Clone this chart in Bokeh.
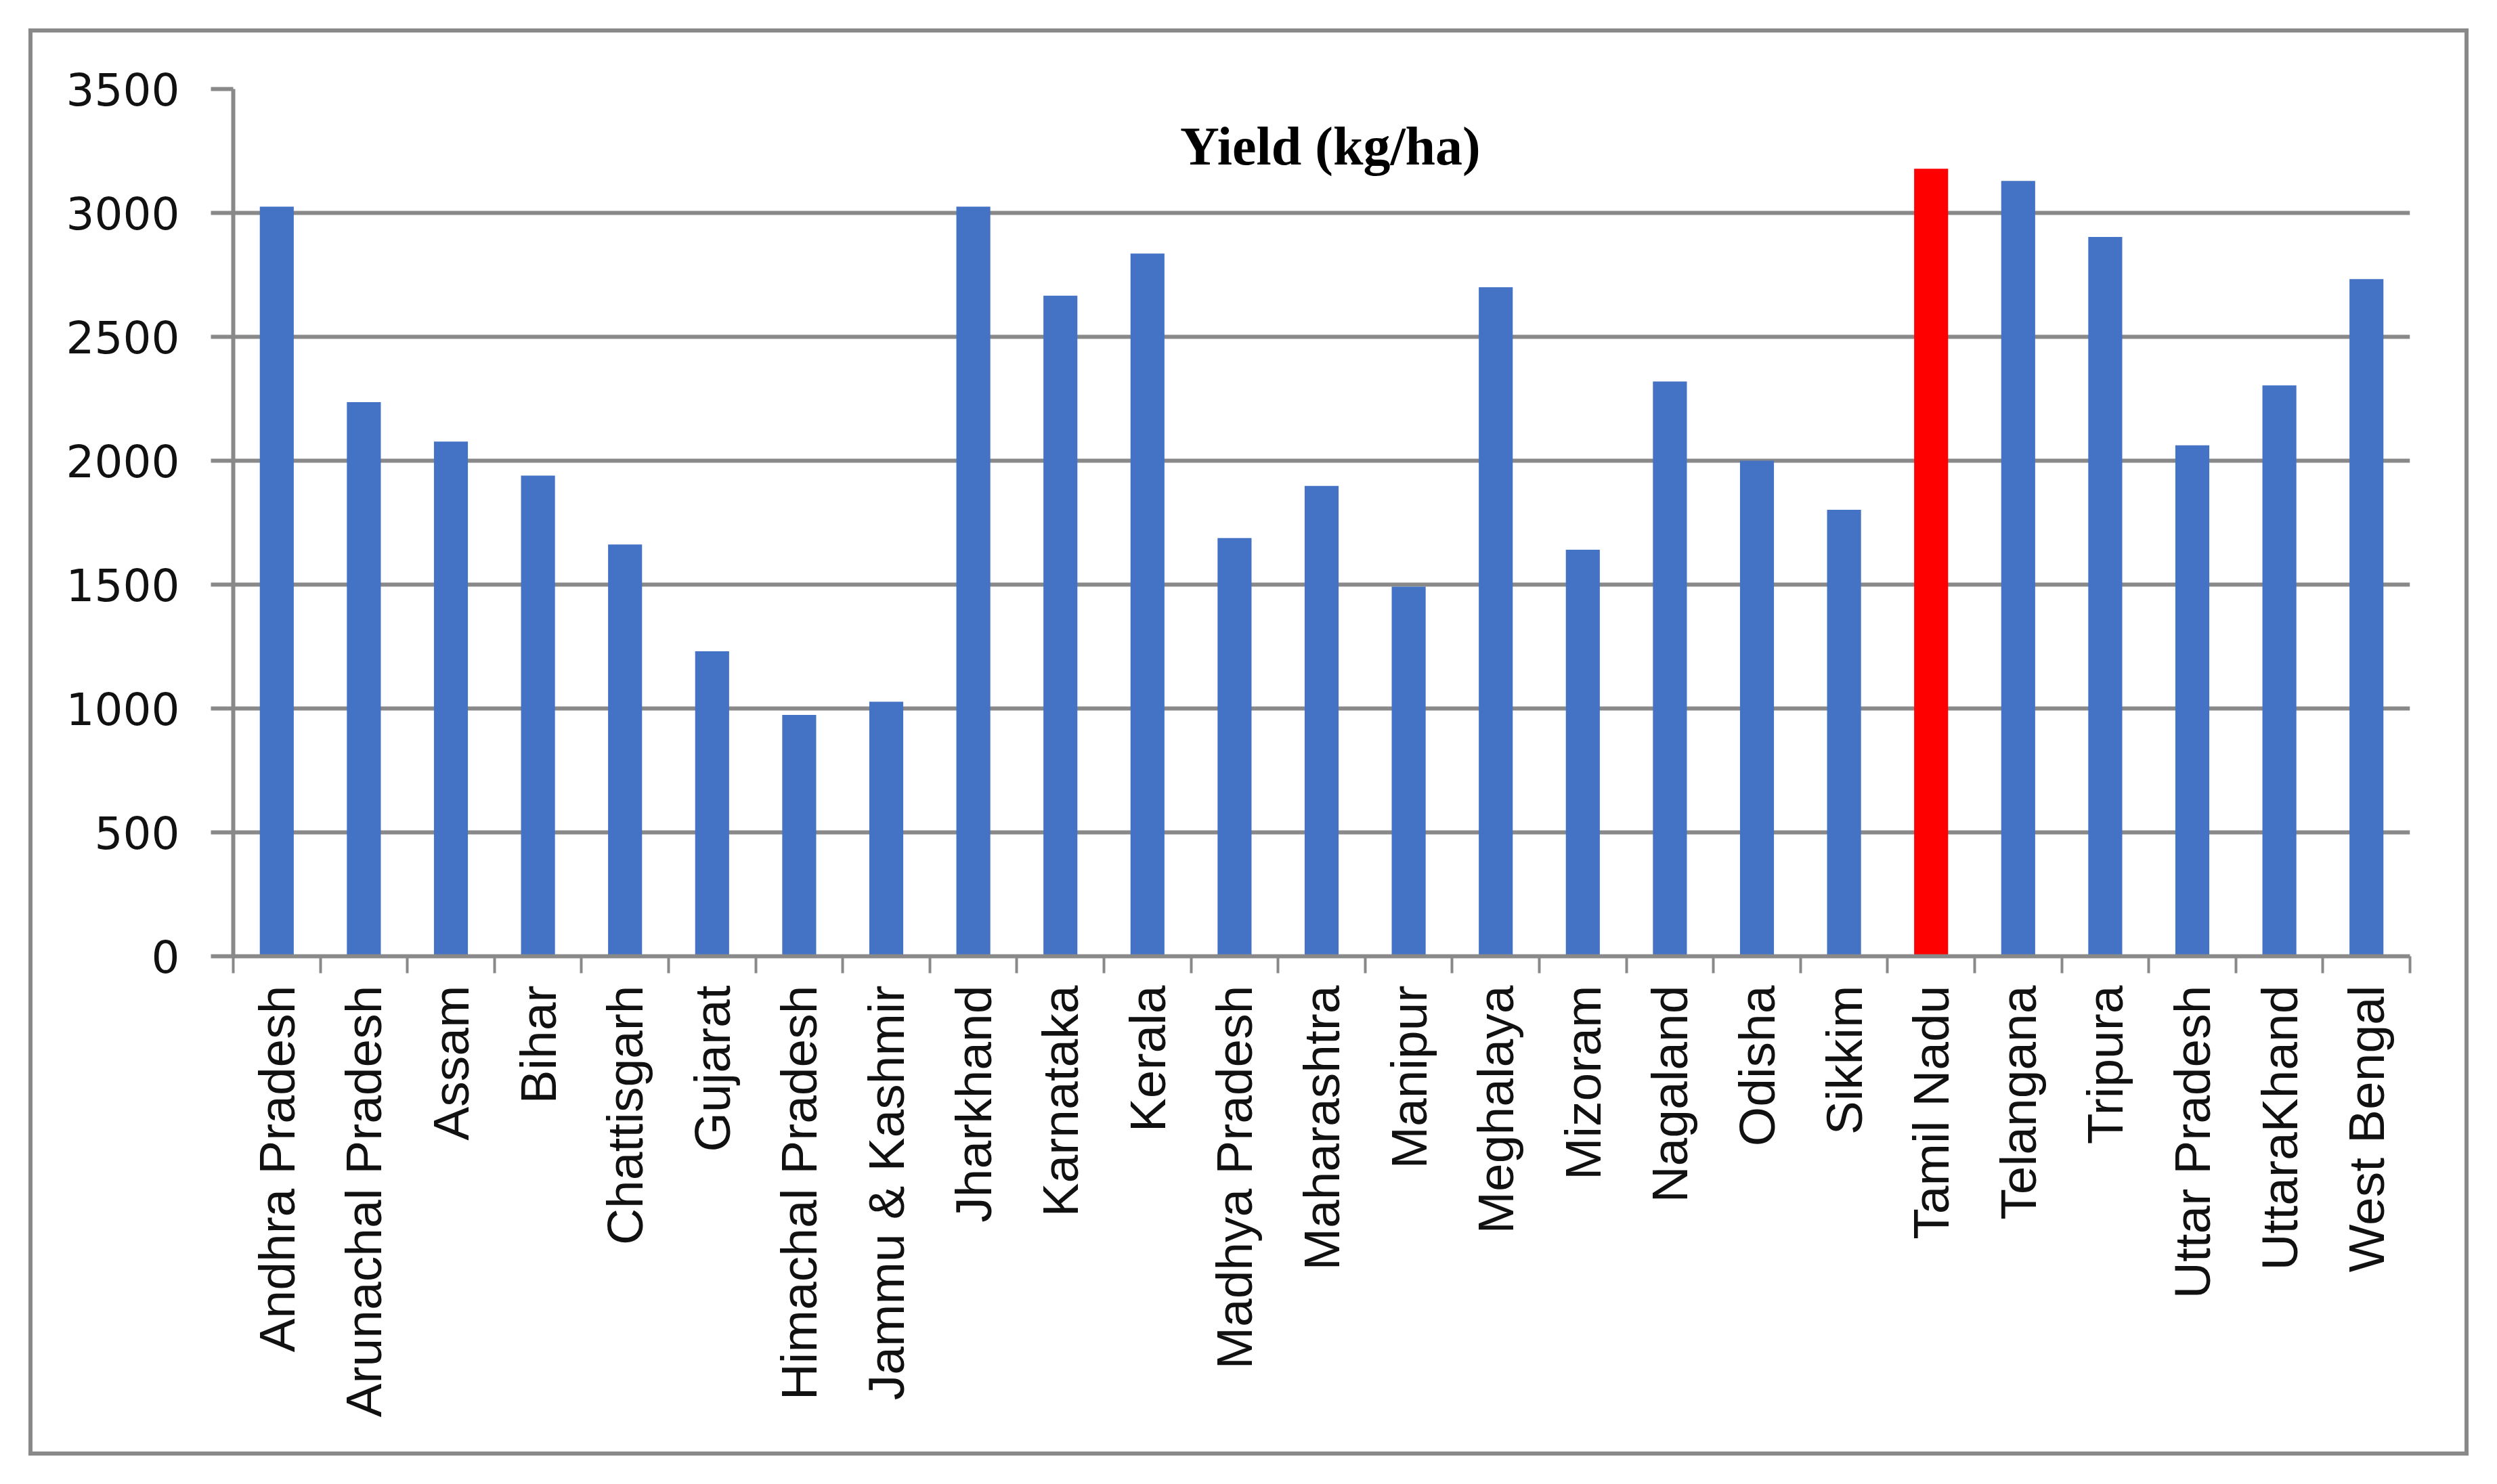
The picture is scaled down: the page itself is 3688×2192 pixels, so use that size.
from bokeh.plotting import figure
from bokeh.models import ColumnDataSource, Range1d, FixedTicker, Label
from bokeh.embed import file_html
from bokeh.resources import INLINE

states = ["Andhra Pradesh", "Arunachal Pradesh", "Assam", "Bihar", "Chattisgarh",
          "Gujarat", "Himachal Pradesh", "Jammu & Kashmir", "Jharkhand", "Karnataka",
          "Kerala", "Madhya Pradesh", "Maharashtra", "Manipur", "Meghalaya",
          "Mizoram", "Nagaland", "Odisha", "Sikkim", "Tamil Nadu",
          "Telangana", "Tripura", "Uttar Pradesh", "UttaraKhand", "West Bengal"]
yield_kg_ha = [3025, 2236, 2077, 1940, 1662,
               1231, 974, 1027, 3025, 2666,
               2836, 1688, 1898, 1492, 2700,
               1641, 2320, 2000, 1802, 3178,
               3129, 2903, 2062, 2304, 2733]
y_ticks = [0, 500, 1000, 1500, 2000, 2500, 3000, 3500]
title_text = "Yield (kg/ha)"
highlight = "Tamil Nadu"

BLUE = "#4472C4"
RED = "#FF0000"
GRAY = "#898989"

idx = list(range(len(states)))
colors = [RED if s == highlight else BLUE for s in states]
src = ColumnDataSource(dict(x=idx, top=yield_kg_ha, state=states, color=colors))

p = figure(width=3672, height=2176, output_backend="svg", toolbar_location=None,
           x_range=Range1d(-0.5, len(states) - 0.5), y_range=Range1d(0, 3500),
           min_border_left=336, min_border_right=121,
           min_border_top=123, min_border_bottom=772)
p.margin = (8, 0, 0, 8)
p.outline_line_color = None
p.background_fill_color = None
p.border_fill_color = None
p.styles = {"outline": "6px solid #898989", "outline-offset": "-40px"}

p.vbar(x="x", top="top", width=0.39, bottom=0, color="color", source=src, line_color=None)

# y axis
p.yaxis.ticker = FixedTicker(ticks=y_ticks)
p.yaxis.axis_line_color = GRAY
p.yaxis.axis_line_width = 6
p.yaxis.major_tick_out = 33
p.yaxis.major_tick_in = 0
p.yaxis.major_tick_line_color = GRAY
p.yaxis.major_tick_line_width = 6
p.yaxis.minor_tick_line_color = None
p.yaxis.major_label_standoff = 46
p.yaxis.major_label_text_font = "DejaVu Sans"
p.yaxis.major_label_text_font_size = "66px"
p.yaxis.major_label_text_color = "#111111"

# x axis: labels at centres, ticks at category boundaries
p.xaxis.ticker = FixedTicker(ticks=idx, minor_ticks=[i - 0.5 for i in range(len(states) + 1)])
p.xaxis.major_label_overrides = {i: s for i, s in zip(idx, states)}
p.xaxis.major_label_orientation = 1.5707963267948966
p.xaxis.axis_line_color = GRAY
p.xaxis.axis_line_width = 6
p.xaxis.major_tick_line_color = None
p.xaxis.major_tick_out = 0
p.xaxis.major_tick_in = 0
p.xaxis.minor_tick_line_color = GRAY
p.xaxis.minor_tick_line_width = 4
p.xaxis.minor_tick_out = 25
p.xaxis.minor_tick_in = 0
p.xaxis.major_label_standoff = 18
p.xaxis.major_label_text_font = "Liberation Sans"
p.xaxis.major_label_text_font_size = "75px"
p.xaxis.major_label_text_color = "#111111"

p.xgrid.grid_line_color = None
p.ygrid.ticker = FixedTicker(ticks=y_ticks)
p.ygrid.grid_line_color = GRAY
p.ygrid.grid_line_width = 6

p.add_layout(Label(x=12.1, y=3270, text=title_text, text_align="center",
                   text_baseline="alphabetic", text_font="Liberation Serif",
                   text_font_style="bold", text_font_size="80px", text_color="#000000"))

open("out.html", "w").write(file_html(p, INLINE))
